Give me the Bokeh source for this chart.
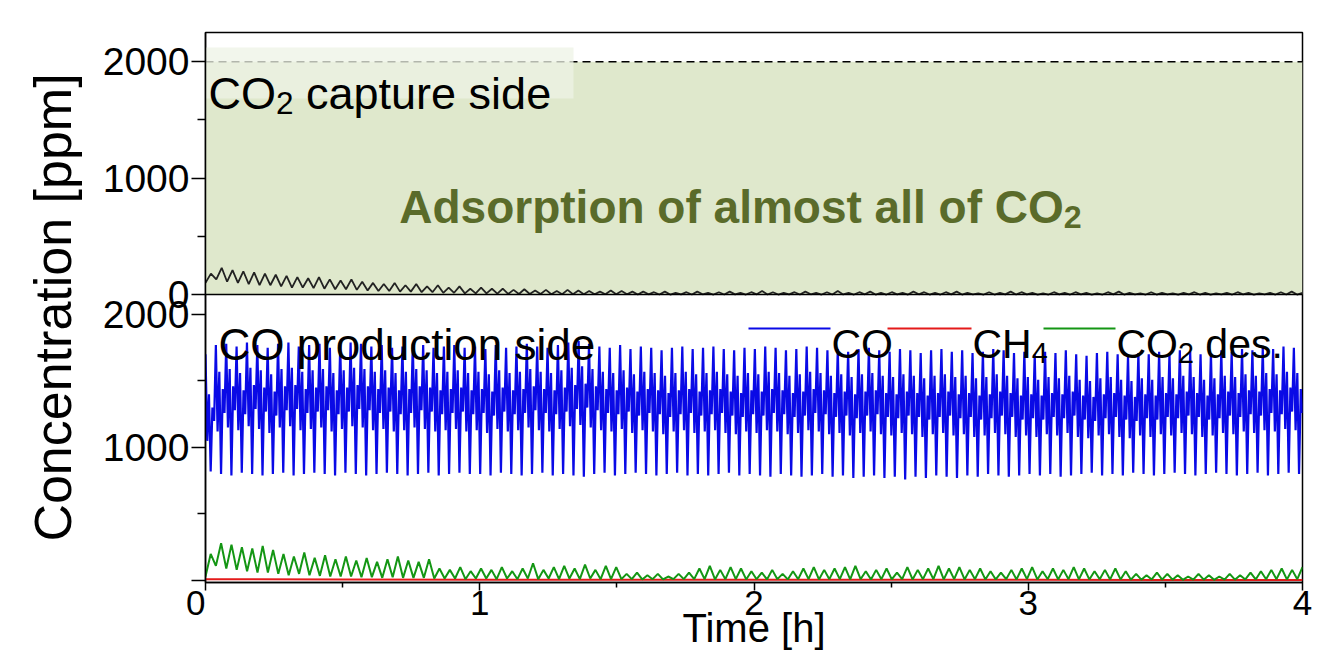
import numpy as np
from bokeh.plotting import figure
from bokeh.models import Range1d, FixedTicker, Span, Label
from bokeh.embed import file_html
from bokeh.resources import INLINE

# ---------------- data ----------------
time_ticks = [0, 1, 2, 3, 4]
time_minor = [0.5, 1.5, 2.5, 3.5]
conc_ticks = [0, 1000, 2000]
conc_minor = [500, 1500]
inlet_ppm = 2000          # CO2 feed concentration (dashed line)
T_END = 4.0

# CO production side, CO [ppm]: per cycle (peak, dip, shoulder, trough, rise, mid)
co_peak = [1700, 1770, 1780, 1760, 1790, 1770, 1750, 1780, 1790, 1760, 1770, 1780, 1750, 1770, 1790, 1780, 1760, 1770, 1750, 1760, 1780, 1770, 1750, 1760, 1770, 1750,
           1760, 1740, 1770, 1750, 1760, 1780, 1760, 1750, 1770, 1790, 1800, 1780, 1760, 1750, 1770, 1740, 1760, 1750, 1730, 1750, 1760, 1740, 1750, 1760, 1740, 1730, 1750,
           1740, 1760, 1750, 1730, 1740, 1760, 1750, 1730, 1740, 1720, 1740, 1750, 1730, 1720, 1740, 1730, 1710, 1730, 1740, 1720, 1730, 1710, 1720, 1740, 1730, 1710, 1720,
           1700, 1720, 1710, 1730, 1700, 1690, 1710, 1720, 1700, 1690, 1710, 1700, 1720, 1710, 1730, 1720, 1700, 1710, 1730, 1720, 1740, 1730, 1750, 1740, 1760, 1750]
co_dip = [1050, 1120, 1150, 1130, 1160, 1140, 1110, 1150, 1160, 1130, 1140, 1150, 1120, 1140, 1160, 1150, 1130, 1140, 1120, 1130, 1150, 1140, 1120, 1130, 1140, 1120,
          1130, 1110, 1140, 1120, 1130, 1150, 1130, 1120, 1140, 1160, 1170, 1150, 1130, 1120, 1140, 1110, 1130, 1120, 1100, 1120, 1130, 1110, 1120, 1130, 1110, 1100, 1120,
          1110, 1130, 1120, 1100, 1110, 1130, 1120, 1100, 1110, 1090, 1110, 1120, 1100, 1090, 1110, 1100, 1080, 1100, 1110, 1090, 1100, 1080, 1090, 1110, 1100, 1080, 1090,
          1080, 1100, 1090, 1110, 1080, 1070, 1090, 1100, 1080, 1070, 1090, 1080, 1100, 1090, 1110, 1100, 1080, 1090, 1110, 1100, 1120, 1110, 1130, 1120, 1140, 1130]
co_shoulder = [1400, 1570, 1590, 1560, 1600, 1580, 1550, 1590, 1600, 1570, 1580, 1590, 1560, 1580, 1600, 1590, 1570, 1580, 1560, 1570, 1590, 1580, 1560, 1570, 1580, 1560,
               1570, 1550, 1580, 1560, 1570, 1590, 1570, 1560, 1580, 1600, 1610, 1590, 1570, 1560, 1580, 1550, 1570, 1560, 1540, 1560, 1570, 1550, 1560, 1570, 1550, 1540, 1560,
               1550, 1570, 1560, 1540, 1550, 1570, 1560, 1540, 1550, 1530, 1550, 1560, 1540, 1530, 1550, 1540, 1520, 1540, 1550, 1530, 1540, 1520, 1530, 1550, 1540, 1520, 1530,
               1510, 1530, 1520, 1540, 1510, 1500, 1520, 1530, 1510, 1500, 1520, 1510, 1530, 1520, 1540, 1530, 1510, 1520, 1540, 1530, 1550, 1540, 1560, 1550, 1570, 1560]
co_trough = [820, 800, 790, 810, 800, 790, 800, 810, 790, 800, 810, 800, 790, 810, 800, 790, 800, 810, 800, 790, 800, 810, 790, 800, 810, 800,
             800, 790, 810, 800, 790, 800, 810, 790, 800, 790, 780, 800, 810, 790, 800, 810, 800, 790, 800, 810, 790, 800, 790, 800, 810, 790, 800,
             790, 780, 800, 790, 780, 790, 800, 780, 790, 770, 780, 790, 770, 780, 760, 780, 770, 790, 780, 770, 790, 780, 800, 790, 780, 790, 800,
             790, 800, 780, 790, 800, 810, 790, 800, 790, 810, 800, 790, 800, 810, 800, 790, 800, 810, 800, 790, 800, 810, 790, 800, 810, 800]
co_rise = [1300, 1440, 1460, 1430, 1470, 1450, 1420, 1460, 1470, 1440, 1450, 1460, 1430, 1450, 1470, 1460, 1440, 1450, 1430, 1440, 1460, 1450, 1430, 1440, 1450, 1430,
           1440, 1420, 1450, 1430, 1440, 1460, 1440, 1430, 1450, 1470, 1480, 1460, 1440, 1430, 1450, 1420, 1440, 1430, 1410, 1430, 1440, 1420, 1430, 1440, 1420, 1410, 1430,
           1420, 1440, 1430, 1410, 1420, 1440, 1430, 1410, 1420, 1400, 1420, 1430, 1410, 1400, 1420, 1410, 1390, 1410, 1420, 1400, 1410, 1390, 1400, 1420, 1410, 1390, 1400,
           1390, 1410, 1400, 1420, 1390, 1380, 1400, 1410, 1390, 1380, 1400, 1390, 1410, 1400, 1420, 1410, 1390, 1400, 1420, 1410, 1430, 1420, 1440, 1430, 1450, 1440]
co_mid = [1200, 1260, 1280, 1250, 1290, 1270, 1240, 1280, 1290, 1260, 1270, 1280, 1250, 1270, 1290, 1280, 1260, 1270, 1250, 1260, 1280, 1270, 1250, 1260, 1270, 1250,
          1260, 1240, 1270, 1250, 1260, 1280, 1260, 1250, 1270, 1290, 1300, 1280, 1260, 1250, 1270, 1240, 1260, 1250, 1230, 1250, 1260, 1240, 1250, 1260, 1240, 1230, 1250,
          1240, 1260, 1250, 1230, 1240, 1260, 1250, 1230, 1240, 1220, 1240, 1250, 1230, 1220, 1240, 1230, 1210, 1230, 1240, 1220, 1230, 1210, 1220, 1240, 1230, 1210, 1220,
          1210, 1230, 1220, 1240, 1210, 1200, 1220, 1230, 1210, 1200, 1220, 1210, 1230, 1220, 1240, 1230, 1210, 1220, 1240, 1230, 1250, 1240, 1260, 1250, 1270, 1260]

# CO production side, desorbed CO2 [ppm]: per cycle (base, peak)
co2des_base = [30, 110, 90, 80, 70, 60, 60, 50, 40, 50, 40, 35, 30, 30,
               30, 25, 25, 20, 25, 20, 20, 20, 15, 15, 15, 10, 15,
               15, 10, 15, 10, 15, 10, 15, 10, 15, 10, 15, 10, 10,
               10, 10, 8, 10, 8, 10, 10, 10, 10, 8, 10, 10, 8,
               10, 8, 10, 8, 10, 10, 8, 10, 10, 8, 10, 8, 10, 8,
               10, 8, 10, 10, 8, 10, 8, 10, 8, 8, 10, 8, 10,
               8, 10, 8, 10, 8, 8, 10, 8, 8, 6, 6, 8, 6,
               6, 5, 6, 6, 5, 6, 6, 8, 8, 10, 10, 8, 10]
co2des_peak = [200, 280, 270, 250, 240, 260, 230, 200, 180, 210, 170, 190, 160, 180,
               150, 170, 140, 160, 180, 150, 140, 160, 90, 80, 100, 70, 90,
               80, 100, 70, 90, 130, 80, 100, 110, 90, 120, 80, 110, 100,
               50, 60, 40, 50, 30, 50, 60, 90, 110, 80, 100, 90, 70,
               60, 80, 50, 70, 90, 100, 80, 90, 100, 110, 70, 80, 90, 60,
               100, 80, 90, 110, 90, 100, 80, 90, 70, 60, 80, 90, 100,
               70, 90, 80, 100, 90, 70, 80, 90, 70, 50, 40, 60, 50,
               40, 30, 50, 40, 30, 50, 40, 60, 70, 80, 90, 80, 100]

# CO production side, CH4 [ppm], every 0.5 h
ch4_time = [0, 0.5, 1.0, 1.5, 2.0, 2.5, 3.0, 3.5, 4.0]
ch4_ppm = [10, 8, 6, 6, 5, 5, 5, 4, 4]

# CO2 capture side, outlet CO2 [ppm]: per cycle (base, peak)
cap_base = [100, 130, 110, 100, 90, 80, 80, 70, 60, 60, 55, 50, 45, 45,
            40, 35, 30, 30, 25, 25, 20, 20, 15, 15, 10, 10, 10,
            8, 5, 5, 5, 5, 3, 3, 3, 2, 2, 2, 2, 2,
            0, 2, 0, 0, 1, 0, 2, 0, 0, 1, 0, 2, 0, 0, 1, 0, 2, 0, 0, 1,
            0, 2, 0, 0, 1, 0, 2, 0, 0, 1, 0, 2, 0, 0, 1, 0, 2, 0, 0, 1,
            0, 2, 0, 0, 1, 0, 2, 0, 0, 1, 0, 2, 0, 0, 1, 0, 2, 0, 1, 0, 0, 0]
cap_peak = [180, 230, 210, 200, 190, 180, 170, 160, 150, 140, 150, 130, 120, 130,
            110, 100, 90, 100, 80, 90, 70, 80, 60, 70, 50, 60, 50,
            50, 40, 45, 35, 40, 30, 40, 35, 30, 25, 35, 30, 25,
            25, 20, 25, 15, 20, 25, 15, 20, 25, 15, 20, 30, 20,
            15, 20, 25, 15, 20, 30, 15, 20, 25, 15, 20, 15, 25, 20,
            15, 20, 25, 15, 10, 20, 15, 25, 20, 15, 10, 20, 15,
            20, 15, 10, 20, 25, 15, 10, 20, 15, 10, 15, 20, 15,
            10, 15, 20, 15, 10, 15, 20, 25, 15, 10, 20, 15, 20]


def cycle_series(*cols):
    n = min(len(c) for c in cols)
    v = np.column_stack([np.asarray(c[:n], float) for c in cols]).ravel()
    t = np.linspace(0, T_END, v.size)
    return t, v


t_co, co = cycle_series(co_peak, co_dip, co_shoulder, co_trough, co_rise, co_mid)
t_g, g = cycle_series(co2des_base, co2des_peak)
t_b, b = cycle_series(cap_base, cap_peak)

# ---------------- layout ----------------
FW, FH = 1097, 550
BL, BR, BT, BB = 205, 25, 32, 68
MAIN_START, MAIN_END = -15.0, 4120.0        # lower panel scale
TOP_OFF, TOP_K = 2150.0, 0.875              # upper panel: main = TOP_OFF + TOP_K * ppm
top_start = (MAIN_START - TOP_OFF) / TOP_K
top_end = (MAIN_END - TOP_OFF) / TOP_K


def px2x(px):
    return (px - BL) / FW * T_END


def py2main(py):
    return MAIN_START + (BT + FH - py) / FH * (MAIN_END - MAIN_START)


def py2top(py):
    return (py2main(py) - TOP_OFF) / TOP_K


FONT = "Liberation Sans"
p = figure(frame_width=FW, frame_height=FH,
           x_range=Range1d(0, T_END), y_range=Range1d(MAIN_START, MAIN_END),
           output_backend="svg", toolbar_location=None,
           min_border_left=BL, min_border_right=BR, min_border_top=BT, min_border_bottom=BB)
p.extra_y_ranges = {"top": Range1d(top_start, top_end)}
p.xgrid.visible = False
p.ygrid.visible = False
p.outline_line_color = "black"
p.outline_line_width = 1.5
p.background_fill_color = "white"
p.border_fill_color = "white"

# upper panel background and reference line
p.quad(left=0, right=T_END, bottom=0, top=inlet_ppm, y_range_name="top",
       fill_color="#dfe8cc", line_color=None)
p.line(x=[0, T_END], y=[inlet_ppm, inlet_ppm], y_range_name="top",
       line_color="black", line_width=1.7, line_dash="8 5")
p.quad(left=0, right=px2x(573), bottom=py2top(98), top=py2top(47), y_range_name="top",
       fill_color="#eef3e6", fill_alpha=0.75, line_color=None)

# series
p.line(t_b, b, y_range_name="top", line_color="#222222", line_width=1.8)
p.line(t_co, co, line_color="#0a0ae6", line_width=2.2)
p.line(ch4_time, ch4_ppm, line_color="#e41a1a", line_width=2.0)
p.line(t_g, g, line_color="#149614", line_width=2.0)

# separator between panels
p.add_layout(Span(location=TOP_OFF, dimension="width", line_color="black", line_width=1.5))

# axes
xa = p.xaxis[0]
xa.ticker = FixedTicker(ticks=time_ticks, minor_ticks=time_minor)
xa.major_label_overrides = {0: "0\u2007"}
ya = p.yaxis[0]
main_ticks = list(conc_ticks) + [TOP_OFF + TOP_K * v for v in conc_ticks]
main_minor = list(conc_minor) + [TOP_OFF + TOP_K * v for v in conc_minor]
ya.ticker = FixedTicker(ticks=main_ticks, minor_ticks=main_minor)
overrides = {TOP_OFF + TOP_K * v: str(v) for v in conc_ticks}
overrides[0] = ""
ya.major_label_overrides = overrides
for ax in (xa, ya):
    ax.axis_line_color = "black"
    ax.axis_line_width = 1.5
    ax.major_tick_line_color = "black"
    ax.major_tick_line_width = 1.5
    ax.minor_tick_line_color = "black"
    ax.minor_tick_line_width = 1.5
    ax.major_tick_in = 0
    ax.minor_tick_in = 0
    ax.major_label_text_font = FONT
    ax.major_label_text_color = "black"
    ax.axis_label_text_font = FONT
    ax.axis_label_text_font_style = "normal"
    ax.axis_label_text_color = "black"
ya.major_tick_out = 14
ya.minor_tick_out = 8
ya.major_label_text_font_size = "39px"
ya.major_label_standoff = 2
ya.axis_label = "Concentration [ppm]"
ya.axis_label_text_font_size = "52px"
ya.axis_label_standoff = 18

xa.major_tick_out = 8
xa.minor_tick_out = 5
xa.major_label_text_font_size = "35px"
xa.major_label_standoff = -8
xa.axis_label = "Time [h]"
xa.axis_label_text_font_size = "40px"
xa.axis_label_standoff = -19

REG = {'C': .722, 'O': .778, 'H': .722, '2': .556, '4': .556, ' ': .278}
BOLD = {'A': .722, 'd': .611, 's': .556, 'o': .611, 'r': .389, 'p': .611, 't': .333, 'i': .278,
        'n': .611, ' ': .278, 'f': .333, 'a': .556, 'l': .278, 'm': .889, 'C': .722, 'O': .778, '2': .556}


def tw(s, size, bold=False):
    tab = BOLD if bold else REG
    return sum(tab.get(c, .556) for c in s) * size


def rich(x, y, pieces, size, color="black", bold=False, center=False, y_range_name="default"):
    """pieces: list of (text, is_subscript)"""
    sub = 0.7 * size
    widths = [tw(t, sub if s else size, bold) for t, s in pieces]
    off = -sum(widths) / 2 if center else 0
    for (t, s), w in zip(pieces, widths):
        lead = tw(t[:len(t) - len(t.lstrip())], sub if s else size, bold)
        p.add_layout(Label(x=x, y=y, x_offset=off + lead, y_offset=(-0.22 * size if s else 0),
                           text=t.strip(), text_font=FONT, text_font_size=f"{sub if s else size:.1f}px",
                           text_font_style="bold" if bold else "normal", text_color=color,
                           text_align="left", text_baseline="alphabetic", y_range_name=y_range_name))
        off += w


# panel texts
rich(px2x(208), py2top(93), [("CO", False), ("2", True), (" capture side", False)], 45, y_range_name="top")
rich(px2x(740), py2top(206), [("Adsorption of almost all of CO", False), ("2", True)], 46,
     color="#5a6b2a", bold=True, center=True, y_range_name="top")
rich(px2x(218), py2main(344), [("CO production side", False)], 44)

# legend
leg_y = py2main(328)
leg_base = py2main(343)
p.segment(x0=[px2x(748)], y0=[leg_y], x1=[px2x(830)], y1=[leg_y], line_color="#0a0ae6", line_width=1.8)
p.segment(x0=[px2x(887)], y0=[leg_y], x1=[px2x(971)], y1=[leg_y], line_color="#e41a1a", line_width=1.8)
p.segment(x0=[px2x(1043)], y0=[leg_y], x1=[px2x(1115)], y1=[leg_y], line_color="#149614", line_width=1.8)
rich(px2x(831), leg_base, [("CO", False)], 41)
rich(px2x(972), leg_base, [("CH", False), ("4", True)], 41)
rich(px2x(1116), leg_base, [("CO", False), ("2", True), (" des.", False)], 41)

open("out.html", "w").write(file_html(p, INLINE))
